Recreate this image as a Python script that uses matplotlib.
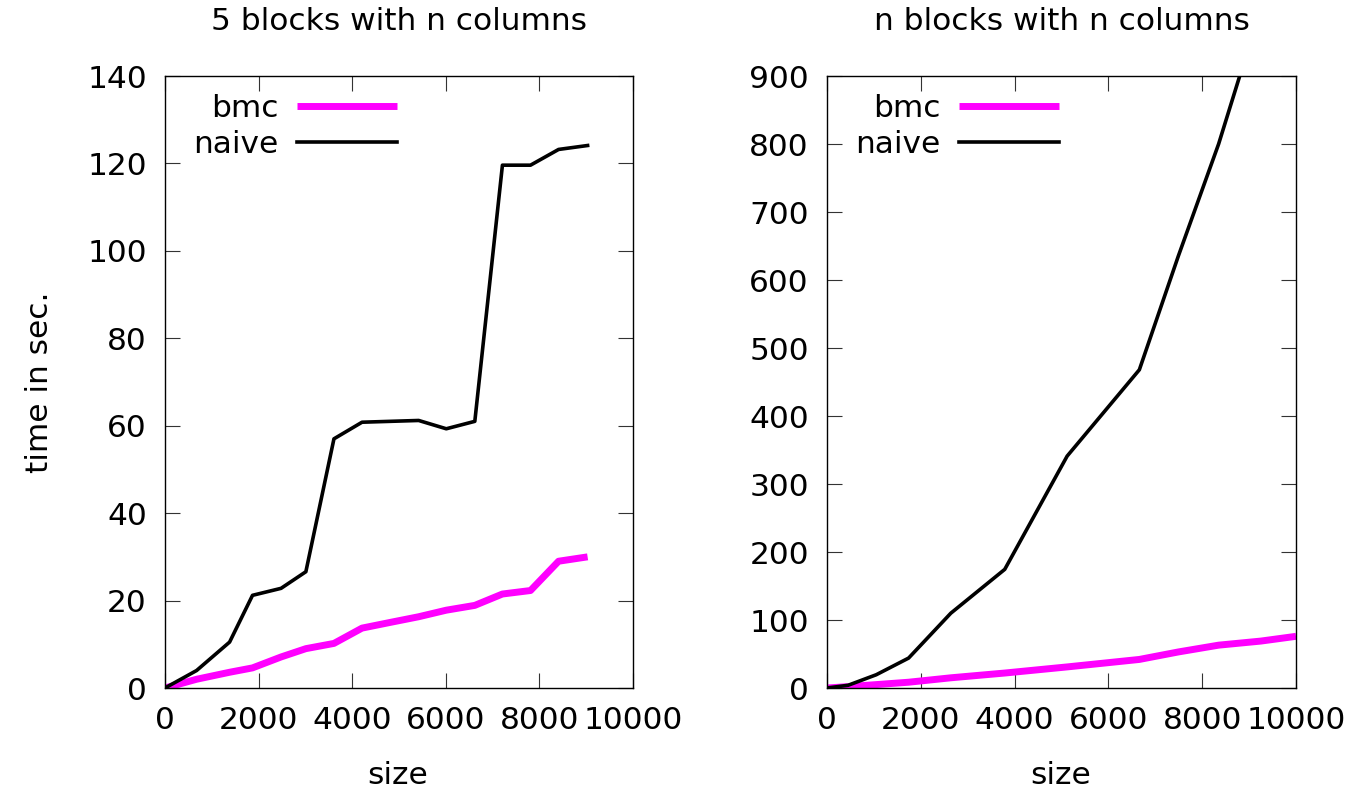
import matplotlib
matplotlib.use('Agg')
import matplotlib.pyplot as plt

# left panel: 5 blocks with n columns
size_left = [0, 675, 1380, 1870, 2480, 3010, 3610, 4210, 4810, 5420, 6010, 6620, 7210, 7810, 8410, 9030]
bmc_left = [0, 2.0, 3.6, 4.6, 7.1, 9.0, 10.2, 13.7, 15.0, 16.3, 17.8, 18.9, 21.5, 22.3, 29.0, 30.0]
naive_left = [0, 4.0, 10.5, 21.2, 22.8, 26.6, 57.0, 60.8, 61.0, 61.2, 59.3, 61.0, 119.6, 119.6, 123.2, 124.1]

# right panel: n blocks with n columns
size_right = [0, 450, 1050, 1740, 2640, 3790, 5120, 6660, 7490, 8350, 9250, 10000]
bmc_right = [0, 2, 5, 8.5, 15, 22, 31, 42, 53, 63, 69, 76]
naive_right = [0, 4, 19.5, 44, 110, 174.5, 341, 468, 635, 800, 1000, 1200]

titles = ['5 blocks with n columns', 'n blocks with n columns']
yticks_left = list(range(0, 141, 20))
yticks_right = list(range(0, 901, 100))
xticks = list(range(0, 10001, 2000))

plt.rcParams['font.family'] = 'DejaVu Sans'
fs = 22.5

fig = plt.figure(figsize=(13.6, 7.93), dpi=100)
ax1 = fig.add_axes([165 / 1360, 105 / 793, 468 / 1360, 612 / 793])
ax2 = fig.add_axes([827 / 1360, 105 / 793, 469 / 1360, 612 / 793])

panels = [
    (ax1, size_left, bmc_left, naive_left, yticks_left, 140, titles[0]),
    (ax2, size_right, bmc_right, naive_right, yticks_right, 900, titles[1]),
]

for ax, xs, bmc, naive, yt, ymax, title in panels:
    ax.plot(xs, bmc, color='#ff00ff', lw=5, label='bmc', solid_capstyle='butt')
    ax.plot(xs, naive, color='black', lw=2.6, label='naive')
    ax.set_xlim(0, 10000)
    ax.set_ylim(0, ymax)
    ax.set_xticks(xticks)
    ax.set_yticks(yt)
    ax.tick_params(direction='in', length=11, width=0.8, color='#333333',
                   top=True, right=True, labelsize=fs, pad=13)
    for sp in ax.spines.values():
        sp.set_linewidth(1.0)
    ax.set_title(title, fontsize=fs, pad=33)
    ax.legend(loc='upper left', bbox_to_anchor=(0.06, 0.97), frameon=False,
              markerfirst=False, fontsize=fs, handlelength=3.2,
              handletextpad=0.6, labelspacing=0.2, borderpad=0,
              borderaxespad=0)

fig.text(40 / 1360, 1 - 382 / 793, 'time in sec.', rotation=90,
         ha='center', va='center', fontsize=fs)
fig.text(398 / 1360, 1 - 775 / 793, 'size', ha='center', va='center', fontsize=fs)
fig.text(1061 / 1360, 1 - 775 / 793, 'size', ha='center', va='center', fontsize=fs)

fig.savefig('out.png', dpi=100)
